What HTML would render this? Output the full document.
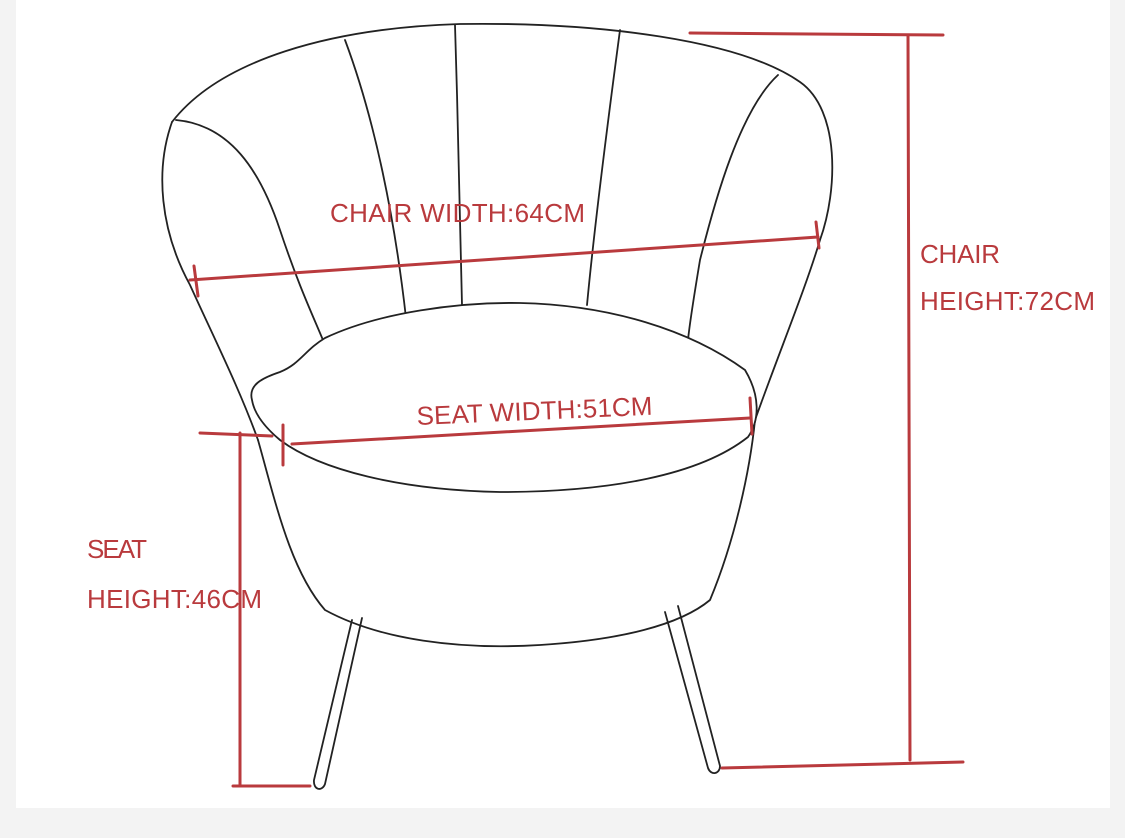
<!DOCTYPE html>
<html><head><style>
html,body{margin:0;padding:0;background:#f4f4f4;}
svg{display:block}
</style></head><body>
<svg width="1125" height="838" viewBox="0 0 1125 838" xmlns="http://www.w3.org/2000/svg">
<rect x="0" y="0" width="1125" height="838" fill="#f3f3f3"/>
<rect x="16" y="0" width="1094" height="808" fill="#ffffff"/>
<g fill="none" stroke="#222" stroke-width="1.8" stroke-linecap="round">
<path d="M172,122 C220,60 330,28 460,24 C600,22 740,40 800,82 C840,110 838,190 820,240 C805,290 780,350 755,420"/>
<path d="M172,122 C155,170 160,230 190,285 C215,340 240,390 258,440"/>
<path d="M258,440 C275,500 290,570 325,610 C380,640 460,650 540,645 C620,640 680,625 710,600 C735,540 750,470 755,420"/>
<path d="M176,120 C230,125 260,170 280,230 C300,290 315,320 325,345"/>
<path d="M345,40 C375,120 395,220 406,318"/>
<path d="M455,25 C458,120 460,220 462,305"/>
<path d="M620,30 C608,120 595,220 587,305"/>
<path d="M778,75 C740,110 715,200 700,260 C695,290 690,320 688,340"/>
<path d="M252,400 C248,385 262,378 280,372 C300,364 305,350 325,338 C380,312 460,302 520,303 C610,305 690,330 745,370 C760,395 760,420 748,437 C700,475 610,492 500,492 C400,490 320,470 280,440 C262,425 254,412 252,400 Z" fill="#fff"/>
<path d="M352,620 L314,780 C313,790 322,792 325,784 L362,618"/>
<path d="M665,612 L708,768 C711,776 720,774 720,766 L678,606"/>
</g>
<g stroke="#b93a3d" stroke-width="3" fill="none" stroke-linecap="round">
<path d="M190,280 L818,237"/>
<path d="M194,266 L198,296"/><path d="M816,222 L819,248"/>
<path d="M292,444 L750,418"/>
<path d="M283,425 L283,465"/><path d="M750,398 L752,434"/>
<path d="M200,433 L272,436"/>
<path d="M240,433 L240,785"/>
<path d="M233,786 L310,786"/>
<path d="M690,33 L943,35"/>
<path d="M908,35 L910,760"/>
<path d="M722,768 L963,762"/>
</g>
<g fill="#b93a3d" font-family="'Liberation Sans', sans-serif" font-size="26" textLength="0">
<text x="330" y="222" textLength="255">CHAIR WIDTH:64CM</text>
<text x="920" y="263" textLength="80">CHAIR</text>
<text x="920" y="310" textLength="175">HEIGHT:72CM</text>
<text x="87" y="558" textLength="60">SEAT</text>
<text x="87" y="608" textLength="175">HEIGHT:46CM</text>
<text x="417" y="425" textLength="236" transform="rotate(-2.5 417 425)">SEAT WIDTH:51CM</text>
</g>
</svg>
</body></html>
